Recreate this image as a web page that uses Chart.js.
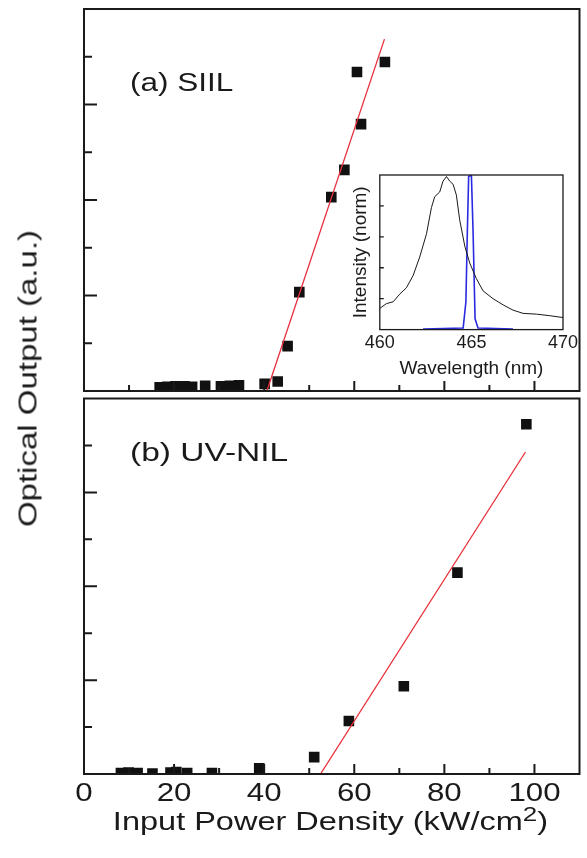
<!DOCTYPE html>
<html>
<head>
  <title>Optical output vs input power density</title>
  <script src="https://cdn.jsdelivr.net/npm/chart.js"></script>
  <style>
    body { margin: 0; background: #fff; }
    #fig { position: relative; width: 587px; height: 858px; overflow: hidden; background: #fff;
           font-family: 'Liberation Sans', Arial, sans-serif; color: #1a1a1a; }
    canvas { position: absolute; }
    .txt { position: absolute; font-size: 25px; line-height: 25px; white-space: nowrap; }
  </style>
</head>
<body>
<div id="fig">
  <canvas id="topPanel" width="587" height="400" style="left:0;top:0"></canvas>
  <canvas id="bottomPanel" width="587" height="467" style="left:0;top:391px"></canvas>
  <canvas id="inset" width="249" height="223" style="left:338px;top:165px"></canvas>

  <div class="txt" style="left:130px;top:70px;transform:scaleX(1.26);transform-origin:0 0">(a) SIIL</div>
  <div class="txt" style="left:130px;top:440px;transform:scaleX(1.34);transform-origin:0 0">(b) UV-NIL</div>
  <div class="txt" style="left:-172px;top:366px;width:400px;text-align:center;transform:rotate(-90deg) scaleX(1.32)">Optical Output (a.u.)</div>
  <div class="txt" style="left:37px;top:809px;width:587px;text-align:center;transform:scaleX(1.3)">Input Power Density (kW/cm<span style="font-size:0.8em;position:relative;top:-9px">2</span>)</div>
</div>

<script>
  // (a) SIIL
  const siilPower  = [16.8, 18.5, 20.3, 22.3, 24.0, 26.9, 30.4, 32.4, 34.4, 40.1, 43.0, 45.2, 47.8, 54.9, 57.8, 60.6, 61.5, 66.8];
  const siilOutput = [0.08, 0.09, 0.10, 0.10, 0.09, 0.11, 0.10, 0.11, 0.12, 0.15, 0.20, 0.94, 2.07, 4.06, 4.63, 6.68, 5.59, 6.89];
  const siilFitX = [40.6, 66.7];
  const siilFitY = [0, 7.37];

  // (b) UV-NIL
  const uvPower  = [8.2, 9.9, 11.9, 15.2, 19.2, 20.5, 22.9, 28.4, 38.9, 51.1, 58.8, 71.0, 82.9, 98.2];
  const uvOutput = [0.02, 0.03, 0.02, 0.01, 0.03, 0.04, 0.02, 0.02, 0.12, 0.36, 1.13, 1.87, 4.29, 7.45];
  const uvFitX = [52.5, 98.0];
  const uvFitY = [0, 6.86];

  // inset spectra
  const specWl  = [460.0, 460.36, 460.73, 461.09, 461.45, 461.82, 462.18, 462.55, 462.82, 463.0, 463.27, 463.45, 463.64, 463.82,
                   464.0, 464.18, 464.36, 464.64, 464.91, 465.27, 465.64, 466.18, 466.73, 467.27, 467.82, 468.55, 469.27, 470.0];
  const specInt = [0.137, 0.168, 0.18, 0.23, 0.27, 0.35, 0.47, 0.62, 0.79, 0.86, 0.89, 0.96, 0.99, 0.96,
                   0.94, 0.87, 0.71, 0.54, 0.43, 0.33, 0.25, 0.20, 0.16, 0.126, 0.105, 0.10, 0.09, 0.078];
  const laserWl  = [462.36, 464.55, 464.7, 464.78, 464.85, 465.0, 465.09, 465.2, 465.36, 467.27];
  const laserInt = [0.004, 0.01, 0.18, 0.64, 0.99, 1.0, 0.64, 0.07, 0.01, 0.004];

  // ticks
  const xTickLabels = [0, 20, 40, 60, 80, 100];
  const xMajorTicks = [20, 40, 60, 80, 100];
  const xMinorTicks = [10, 30, 50, 70, 90];
  const yMajorTicks = [2, 4, 6];
  const yMinorTicks = [1, 3, 5, 7];
  const insetYTicks = [0.2, 0.4, 0.6, 0.8];

  const pts = (xs, ys) => xs.map((v, i) => ({ x: v, y: ys[i] }));

  // frame + inward tick marks, drawn from the chart's own scales
  const framePlugin = {
    id: 'frame',
    afterDatasetsDraw(chart, args, o) {
      const { ctx, chartArea: a } = chart;
      const x = chart.scales.x, y = chart.scales.y;
      ctx.save();
      ctx.strokeStyle = '#1a1a1a';
      ctx.lineWidth = o.width;
      ctx.beginPath();
      (o.xMajor || []).forEach(v => { const p = x.getPixelForValue(v); ctx.moveTo(p, a.bottom); ctx.lineTo(p, a.bottom - o.xMajorLen); });
      (o.xMinor || []).forEach(v => { const p = x.getPixelForValue(v); ctx.moveTo(p, a.bottom); ctx.lineTo(p, a.bottom - o.xMinorLen); });
      (o.yMajor || []).forEach(v => { const p = y.getPixelForValue(v); ctx.moveTo(a.left, p); ctx.lineTo(a.left + o.yMajorLen, p); });
      (o.yMinor || []).forEach(v => { const p = y.getPixelForValue(v); ctx.moveTo(a.left, p); ctx.lineTo(a.left + o.yMinorLen, p); });
      ctx.stroke();
      ctx.strokeRect(a.left, a.top, a.right - a.left, a.bottom - a.top);
      if (o.xLabels) {
        ctx.fillStyle = '#1a1a1a';
        ctx.font = '25px "Liberation Sans", Arial, sans-serif';
        ctx.textAlign = 'center';
        ctx.textBaseline = 'alphabetic';
        o.xLabels.forEach(v => {
          ctx.save();
          ctx.translate(x.getPixelForValue(v), a.bottom + 27);
          ctx.scale(1.25, 1);
          ctx.fillText(String(v), 0, 0);
          ctx.restore();
        });
      }
      ctx.restore();
    }
  };

  function panel(id, px, py, fx, fy, bottomPad, labels) {
    return new Chart(document.getElementById(id), {
      type: 'scatter',
      data: {
        datasets: [
          { data: pts(fx, fy), showLine: true, borderColor: '#e8303c', borderWidth: 1.3, pointRadius: 0 },
          { data: pts(px, py), pointStyle: 'rect', pointRadius: 7.5, backgroundColor: '#111', borderColor: '#111', borderWidth: 0 }
        ]
      },
      options: {
        responsive: false,
        animation: false,
        layout: { padding: { left: 84, right: 4, top: id === 'topPanel' ? 9 : 0, bottom: bottomPad } },
        plugins: {
          legend: { display: false },
          tooltip: { enabled: false },
          frame: { width: 2, xMajor: xMajorTicks, xMinor: xMinorTicks, yMajor: yMajorTicks, yMinor: yMinorTicks,
                   xMajorLen: 10, xMinorLen: 6, yMajorLen: 13, yMinorLen: 8, xLabels: labels }
        },
        scales: {
          x: { type: 'linear', min: 0, max: 110, display: false },
          y: { type: 'linear', min: 0, max: 8, display: false }
        }
      },
      plugins: [framePlugin]
    });
  }

  panel('topPanel', siilPower, siilOutput, siilFitX, siilFitY, 9, null);
  panel('bottomPanel', uvPower, uvOutput, uvFitX, uvFitY, 84, xTickLabels);

  new Chart(document.getElementById('inset'), {
    type: 'scatter',
    data: {
      datasets: [
        { data: pts(specWl, specInt), showLine: true, borderColor: '#1a1a1a', borderWidth: 1, pointRadius: 0 },
        { data: pts(laserWl, laserInt), showLine: true, borderColor: '#2a2ae0', borderWidth: 1.6, pointRadius: 0 }
      ]
    },
    options: {
      responsive: false,
      animation: false,
      layout: { padding: { left: 11, right: 24, top: 10, bottom: 8 } },
      plugins: {
        legend: { display: false },
        tooltip: { enabled: false },
        frame: { width: 1.3, yMajor: insetYTicks, yMajorLen: 4 }
      },
      scales: {
        x: {
          type: 'linear', min: 460, max: 470,
          ticks: { stepSize: 5, maxRotation: 0, padding: 3, color: '#1a1a1a', font: { family: '"Liberation Sans", Arial', size: 18 } },
          grid: { display: false, drawTicks: false }, border: { display: false },
          title: { display: true, text: 'Wavelength (nm)', color: '#1a1a1a', padding: 0, font: { family: '"Liberation Sans", Arial', size: 19 } }
        },
        y: {
          type: 'linear', min: 0, max: 1,
          ticks: { display: false },
          grid: { display: false, drawTicks: false }, border: { display: false },
          title: { display: true, text: 'Intensity (norm)', color: '#1a1a1a', padding: { top: 0, bottom: 8 }, font: { family: '"Liberation Sans", Arial', size: 19 } }
        }
      }
    },
    plugins: [framePlugin]
  });
</script>
</body>
</html>
